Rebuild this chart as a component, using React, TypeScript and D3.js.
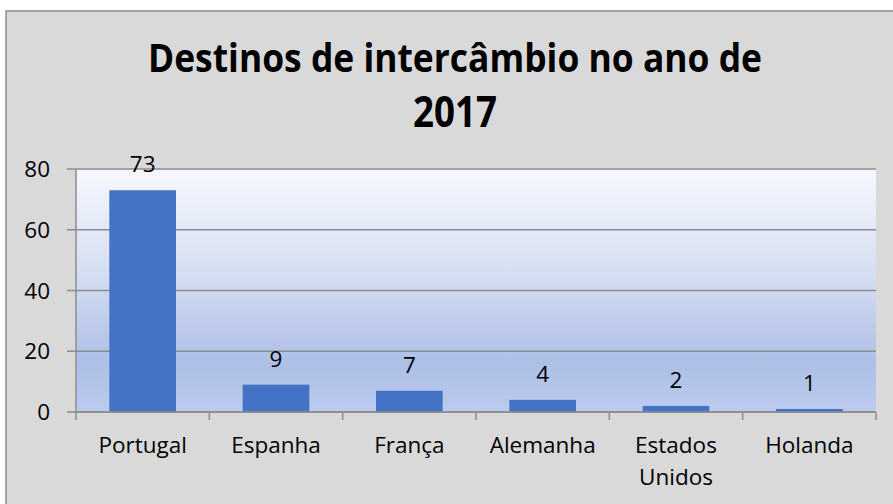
import React from "react";
import * as d3 from "d3";

const categories: string[][] = [["Portugal"], ["Espanha"], ["França"], ["Alemanha"], ["Estados", "Unidos"], ["Holanda"]];
const values: number[] = [73, 9, 7, 4, 2, 1];
const yTicks: number[] = [0, 20, 40, 60, 80];
const titleLines: string[] = ["Destinos de intercâmbio no ano de", "2017"];

const W = 893;
const H = 504;
const plot = { left: 76, right: 876, top: 169, bottom: 412 };
const FONT = "'Open Sans', 'Noto Sans', sans-serif";

export default function App() {
  const keys = categories.map((c) => c.join(" "));
  const x = d3.scaleBand<string>().domain(keys).range([plot.left, plot.right]).paddingInner(0.5).paddingOuter(0.25);
  const xOuter = d3.scaleBand<string>().domain(keys).range([plot.left, plot.right]).padding(0);
  const y = d3.scaleLinear().domain([0, 80]).range([plot.bottom, plot.top]);
  const axisColor = "#8c8c8c";
  const fs = 22.5;

  return (
    <svg
      width={W}
      height={H}
      style={{ position: "absolute", left: 0, top: 0, display: "block" }}
      fontFamily={FONT}
    >
      <defs>
        <linearGradient id="plotbg" x1="0" y1="0" x2="0" y2="1">
          <stop offset="0" stopColor="#f6f8fe" />
          <stop offset="0.45" stopColor="#d3dcf1" />
          <stop offset="0.8" stopColor="#adbfe6" />
          <stop offset="1" stopColor="#bccbee" />
        </linearGradient>
      </defs>
      <rect x={0} y={0} width={W} height={H} fill="#ffffff" />
      <rect x={6} y={11} width={W + 20} height={H + 20} fill="#d9d9d9" stroke="#8a8a8a" strokeWidth={1.5} />

      {/* title */}
      <text x={455} y={72} textAnchor="middle" fontWeight="bold" fontSize={40} fill="#000" textLength={614} lengthAdjust="spacingAndGlyphs">
        {titleLines[0]}
      </text>
      <text x={455} y={127} textAnchor="middle" fontWeight="bold" fontSize={43} fill="#000" textLength={84} lengthAdjust="spacingAndGlyphs">
        {titleLines[1]}
      </text>

      {/* plot background */}
      <rect x={plot.left} y={plot.top} width={plot.right - plot.left} height={plot.bottom - plot.top} fill="url(#plotbg)" />

      {/* gridlines and y ticks */}
      {yTicks.map((t) => (
        <g key={t}>
          <line x1={67} x2={plot.right} y1={y(t)} y2={y(t)} stroke={axisColor} strokeWidth={1.5} />
          <text x={50} y={y(t)} dy="0.36em" textAnchor="end" fontSize={fs} fill="#000">
            {t}
          </text>
        </g>
      ))}

      {/* y axis line */}
      <line x1={plot.left} x2={plot.left} y1={plot.top} y2={plot.bottom + 8} stroke={axisColor} strokeWidth={1.5} />

      {/* x ticks */}
      {keys.map((k) => (
        <line key={k} x1={(xOuter(k) as number) + xOuter.bandwidth()} x2={(xOuter(k) as number) + xOuter.bandwidth()} y1={plot.bottom} y2={plot.bottom + 8} stroke={axisColor} strokeWidth={1.5} />
      ))}

      {/* bars */}
      {keys.map((k, i) => (
        <rect key={k} x={x(k)} y={y(values[i])} width={x.bandwidth()} height={plot.bottom - y(values[i])} fill="#4472c4" />
      ))}
      <line x1={plot.left} x2={plot.right} y1={plot.bottom} y2={plot.bottom} stroke={axisColor} strokeWidth={1.5} />

      {/* value labels */}
      {keys.map((k, i) => (
        <text key={k} x={(x(k) as number) + x.bandwidth() / 2} y={y(values[i]) - 18} textAnchor="middle" fontSize={fs} fill="#000">
          {values[i]}
        </text>
      ))}

      {/* category labels */}
      {categories.map((lines, i) => (
        <text key={keys[i]} x={(xOuter(keys[i]) as number) + xOuter.bandwidth() / 2} y={453} textAnchor="middle" fontSize={fs} fill="#000">
          {lines.map((l, j) => (
            <tspan key={j} x={(xOuter(keys[i]) as number) + xOuter.bandwidth() / 2} y={453 + j * 32}>
              {l}
            </tspan>
          ))}
        </text>
      ))}
    </svg>
  );
}
